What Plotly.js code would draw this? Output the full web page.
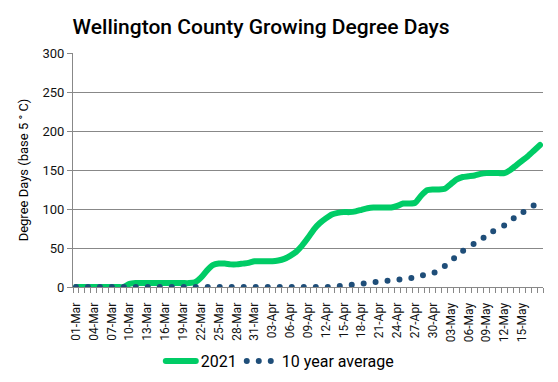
<!DOCTYPE html>
<html>
<head>
<meta charset="utf-8">
<script src="https://cdn.plot.ly/plotly-3.0.1.min.js"></script>
<style>
html,body{margin:0;padding:0;background:#fff;}
#chart{width:558px;height:382px;}
.js-line{stroke-linecap:round !important;}
</style>
</head>
<body>
<div id="chart"></div>
<script>
const dates = [
 '2021-03-01','2021-03-02','2021-03-03','2021-03-04','2021-03-05','2021-03-06','2021-03-07','2021-03-08','2021-03-09','2021-03-10',
 '2021-03-11','2021-03-12','2021-03-13','2021-03-14','2021-03-15','2021-03-16','2021-03-17','2021-03-18','2021-03-19','2021-03-20',
 '2021-03-21','2021-03-22','2021-03-23','2021-03-24','2021-03-25','2021-03-26','2021-03-27','2021-03-28','2021-03-29','2021-03-30',
 '2021-03-31','2021-04-01','2021-04-02','2021-04-03','2021-04-04','2021-04-05','2021-04-06','2021-04-07','2021-04-08','2021-04-09',
 '2021-04-10','2021-04-11','2021-04-12','2021-04-13','2021-04-14','2021-04-15','2021-04-16','2021-04-17','2021-04-18','2021-04-19',
 '2021-04-20','2021-04-21','2021-04-22','2021-04-23','2021-04-24','2021-04-25','2021-04-26','2021-04-27','2021-04-28','2021-04-29',
 '2021-04-30','2021-05-01','2021-05-02','2021-05-03','2021-05-04','2021-05-05','2021-05-06','2021-05-07','2021-05-08','2021-05-09',
 '2021-05-10','2021-05-11','2021-05-12','2021-05-13','2021-05-14','2021-05-15','2021-05-16','2021-05-17','2021-05-18'
];

const gdd2021 = [
 0,0,0,0,0,0,0,0,0,4,
 5,5,5,5,5,5,5,5,5,5,
 6,12,21,28,30,30,29,29,30,31,
 33,33,33,33,34,36,40,45,53,63,
 74,82,88,93,95,96,96,97,99,101,
 102,102,102,102,104,107,107,108,117,124,
 125,125,126,132,138,141,142,143,145,146,
 146,146,146,150,156,162,168,175,182
];

const gddAvg = [
 0,0,0,0,0,0,0,0,0,0,
 0,0,0,0,0,0,0,0,0,0,
 0,0,0,0,0,0,0,0,0,0,
 0,0,0,0,0,0,0,0,0,0,
 0,0,0,0.5,1,1.7,2.5,3.2,4,5,
 6,6.8,7.6,8.5,9.3,10,11,12.5,14.5,16.5,
 18,21,27,33,40,46,51,56,60,66,
 71,75,79,84,91,95,100,105
];

const tickDates = ['2021-03-01','2021-03-04','2021-03-07','2021-03-10','2021-03-13','2021-03-16','2021-03-19','2021-03-22','2021-03-25','2021-03-28',
 '2021-03-31','2021-04-03','2021-04-06','2021-04-09','2021-04-12','2021-04-15','2021-04-18','2021-04-21','2021-04-24','2021-04-27',
 '2021-04-30','2021-05-03','2021-05-06','2021-05-09','2021-05-12','2021-05-15'];
const tickLabels = ['01-Mar','04-Mar','07-Mar','10-Mar','13-Mar','16-Mar','19-Mar','22-Mar','25-Mar','28-Mar',
 '31-Mar','03-Apr','06-Apr','09-Apr','12-Apr','15-Apr','18-Apr','21-Apr','24-Apr','27-Apr',
 '30-Apr','03-May','06-May','09-May','12-May','15-May'];

const seriesNames = ['2021', '10 year average'];

const FONT = 'Roboto, "Liberation Sans", Arial, sans-serif';

const traces = [
 {
  x: dates, y: gdd2021, name: seriesNames[0], type: 'scatter', mode: 'lines',
  line: {color: '#00cc66', width: 6, shape: 'spline', smoothing: 0.6},
  hoverinfo: 'skip'
 },
 {
  x: dates.slice(0, gddAvg.length), y: gddAvg, name: seriesNames[1], type: 'scatter', mode: 'lines',
  line: {color: '#1f4e79', width: 6, dash: '0px,12px', shape: 'spline', smoothing: 0.6},
  hoverinfo: 'skip'
 }
];

const layout = {
 width: 558, height: 382,
 margin: {l: 73, r: 15, t: 53, b: 95},
 paper_bgcolor: '#fff', plot_bgcolor: '#fff',
 font: {family: FONT, size: 12, color: '#222'},
 title: {
  text: 'Wellington County Growing Degree Days',
  font: {family: FONT, size: 21, color: '#000', weight: 500},
  x: 0.468, xanchor: 'center', xref: 'container',
  y: 0.93, yanchor: 'middle', yref: 'container'
 },
 xaxis: {
  type: 'date', automargin: false,
  range: ['2021-02-28 12:00', '2021-05-18 12:00'],
  tickmode: 'array', tickvals: tickDates, ticktext: tickLabels,
  tickangle: -90,
  ticks: 'outside', ticklen: 10, tickcolor: 'rgba(0,0,0,0)',
  tickfont: {family: FONT, size: 12, color: '#111'},
  showline: true, linecolor: '#888', linewidth: 1,
  showgrid: false, zeroline: false,
  minor: {tickmode: 'linear', tick0: '2021-02-28 12:00', dtick: 86400000, ticks: 'outside', ticklen: 5, tickcolor: '#888', showgrid: false},
  fixedrange: true
 },
 yaxis: {
  automargin: false,
  range: [0, 300], dtick: 50, tick0: 0,
  ticks: 'outside', ticklen: 5, tickcolor: '#888',
  tickfont: {family: FONT, size: 13, color: '#111'},
  showline: true, linecolor: '#888', linewidth: 1,
  showgrid: true, gridcolor: '#888', gridwidth: 1,
  zeroline: false,
  title: {text: 'Degree Days (base 5 ° C)', font: {family: FONT, size: 13, color: '#000'}, standoff: 10},
  fixedrange: true
 },
 showlegend: true,
 legend: {
  orientation: 'h', xref: 'paper', x: 0.44, xanchor: 'center',
  yref: 'container', y: 0.055, yanchor: 'middle',
  font: {family: FONT, size: 16, color: '#000'},
  itemwidth: 30, traceorder: 'normal', bgcolor: 'rgba(0,0,0,0)'
 }
};

Plotly.newPlot('chart', traces, layout, {displayModeBar: false, staticPlot: true});
</script>
</body>
</html>
